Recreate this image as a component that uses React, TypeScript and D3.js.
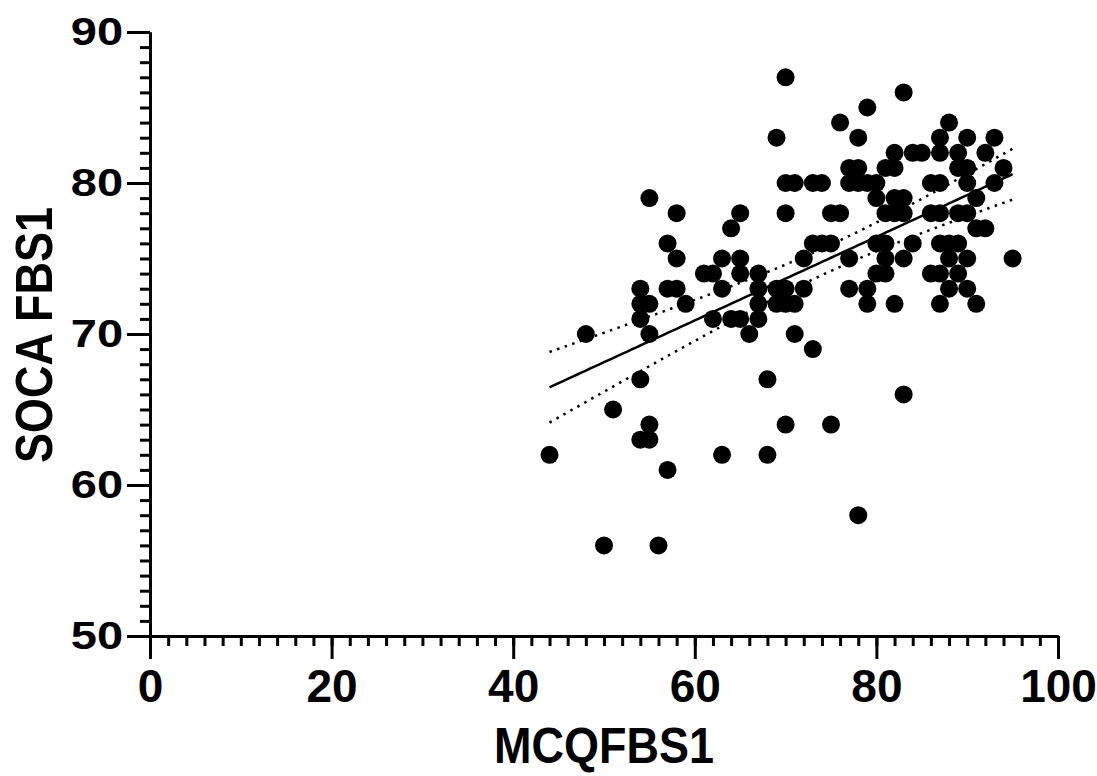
import { useRef, useEffect } from "react";
import * as d3 from "d3";

// MCQFBS1 (x) vs SOCA FBS1 (y), one entry per dot
const mcq = [
  44, 48, 50, 51, 54, 54, 54, 54, 54, 55, 55, 55, 55, 55, 56, 57, 57, 57, 58, 58, 58, 59,
  61, 62, 62, 63, 63, 63, 64, 64, 65, 65, 65, 65, 66, 67, 67, 67, 67, 68, 68,
  69, 69, 69, 70, 70, 70, 70, 70, 70, 71, 71, 71, 72, 72, 73, 73, 73, 74, 74,
  75, 75, 75, 76, 76, 77, 77, 77, 77, 78, 78, 78, 78, 79, 79, 79, 79,
  80, 80, 80, 80, 81, 81, 81, 81, 81, 82, 82, 82, 82, 82, 83, 83, 83, 83, 83,
  84, 84, 85, 86, 86, 86, 87, 87, 87, 87, 87, 87, 87, 88, 88, 88, 88,
  89, 89, 89, 89, 89, 90, 90, 90, 90, 90, 90, 91, 91, 91, 92, 92, 93, 93, 94, 95,
];
const soca = [
  62, 70, 56, 65, 73, 72, 71, 67, 63, 79, 72, 70, 64, 63, 56, 76, 73, 61, 78, 75, 73, 72,
  74, 74, 71, 75, 73, 62, 77, 71, 78, 75, 74, 71, 70, 74, 73, 72, 71, 67, 62,
  83, 73, 72, 87, 80, 78, 73, 72, 64, 80, 72, 70, 75, 73, 80, 76, 69, 80, 76,
  78, 76, 64, 84, 78, 81, 80, 75, 73, 83, 81, 80, 58, 85, 80, 73, 72,
  80, 79, 76, 74, 81, 78, 76, 75, 74, 82, 81, 79, 78, 72, 86, 79, 78, 75, 66,
  82, 76, 82, 80, 78, 74, 83, 82, 80, 78, 76, 74, 72, 84, 76, 75, 73,
  82, 81, 78, 76, 74, 83, 81, 80, 78, 75, 73, 79, 77, 72, 82, 77, 83, 80, 81, 75,
];

const xTicks = [0, 20, 40, 60, 80, 100];
const yTicks = [50, 60, 70, 80, 90];

const W = 1097;
const H = 776;

const App = () => {
  const svgRef = useRef(null);

  useEffect(() => {
    const svg = d3.select(svgRef.current);
    svg.selectAll("*").remove();

    const x = d3.scaleLinear().domain([0, 100]).range([150, 1058]);
    const y = d3.scaleLinear().domain([50, 90]).range([636, 32]);
    const font = "'Liberation Sans', Arial, sans-serif";

    // linear fit + 95% confidence band of the mean
    const n = mcq.length;
    const mx = d3.mean(mcq);
    const my = d3.mean(soca);
    let sxx = 0;
    let sxy = 0;
    mcq.forEach((v, i) => {
      sxx += (v - mx) ** 2;
      sxy += (v - mx) * (soca[i] - my);
    });
    const slope = sxy / sxx;
    const icpt = my - slope * mx;
    let sse = 0;
    mcq.forEach((v, i) => {
      sse += (soca[i] - (icpt + slope * v)) ** 2;
    });
    const s = Math.sqrt(sse / (n - 2));
    const t = 1.978;
    const [x0, x1] = d3.extent(mcq);
    const xs = d3.range(x0, x1 + 0.001, 0.5);
    const fit = xs.map((v) => {
      const yh = icpt + slope * v;
      const se = s * Math.sqrt(1 / n + (v - mx) ** 2 / sxx);
      return { v, yh, lo: yh - t * se, hi: yh + t * se };
    });

    svg
      .append("g")
      .selectAll("circle")
      .data(mcq)
      .join("circle")
      .attr("cx", (d) => x(d))
      .attr("cy", (d, i) => y(soca[i]))
      .attr("r", 9)
      .attr("fill", "#000");

    const line = (key) =>
      d3
        .line()
        .x((d) => x(d.v))
        .y((d) => y(d[key]));

    svg
      .append("path")
      .attr("d", line("yh")(fit))
      .attr("fill", "none")
      .attr("stroke", "#000")
      .attr("stroke-width", 2.5);
    ["lo", "hi"].forEach((k) => {
      svg
        .append("path")
        .attr("d", line(k)(fit))
        .attr("fill", "none")
        .attr("stroke", "#000")
        .attr("stroke-width", 2.5)
        .attr("stroke-dasharray", "2.5 5.5");
    });

    // y axis: minor every 1, major every 10
    const yMinor = svg
      .append("g")
      .attr("transform", "translate(150,0)")
      .call(d3.axisLeft(y).tickValues(d3.range(50, 91, 1)).tickSize(10).tickSizeOuter(0).tickFormat(() => ""));
    const yMajor = svg
      .append("g")
      .attr("transform", "translate(150,0)")
      .call(d3.axisLeft(y).tickValues(yTicks).tickSize(23).tickSizeOuter(0).tickPadding(4));

    // x axis: minor every 2, major every 20
    const xMinor = svg
      .append("g")
      .attr("transform", "translate(0,636)")
      .call(d3.axisBottom(x).tickValues(d3.range(0, 101, 2)).tickSize(10).tickSizeOuter(0).tickFormat(() => ""));
    const xMajor = svg
      .append("g")
      .attr("transform", "translate(0,636)")
      .call(d3.axisBottom(x).tickValues(xTicks).tickSize(23).tickSizeOuter(0).tickPadding(10));

    [yMinor, yMajor, xMinor, xMajor].forEach((g) => {
      g.selectAll("path.domain").attr("stroke", "#000").attr("stroke-width", 3);
      g.selectAll(".tick line").attr("stroke", "#000").attr("stroke-width", 3);
    });
    yMajor
      .selectAll(".tick text")
      .attr("fill", "#000")
      .attr("transform", "scale(1,0.84)")
      .style("font-family", font)
      .style("font-weight", "bold")
      .style("font-size", "47px");
    xMajor
      .selectAll(".tick text")
      .attr("fill", "#000")
      .style("font-family", font)
      .style("font-weight", "bold")
      .style("font-size", "46px");

    svg
      .append("text")
      .attr("transform", "translate(604,763) scale(1,1.12)")
      .attr("text-anchor", "middle")
      .style("font-family", font)
      .style("font-weight", "bold")
      .style("font-size", "45px")
      .text("MCQFBS1");
    svg
      .append("text")
      .attr("transform", "translate(52,335) rotate(-90) scale(1,1.14)")
      .attr("text-anchor", "middle")
      .style("font-family", font)
      .style("font-weight", "bold")
      .style("font-size", "45px")
      .text("SOCA FBS1");
  }, []);

  return (
    <div style={{ position: "absolute", left: 0, top: 0, background: "#fff" }}>
      <svg ref={svgRef} width={W} height={H}></svg>
    </div>
  );
};

export default App;
